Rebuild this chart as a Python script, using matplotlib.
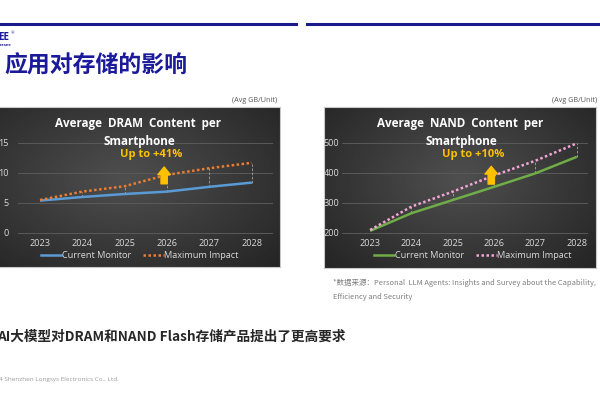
import numpy as np
import matplotlib.pyplot as plt
from matplotlib.patches import FancyArrowPatch
from matplotlib.lines import Line2D

# data
years = [2023, 2024, 2025, 2026, 2027, 2028]
dram_current = [5.4, 6.0, 6.5, 6.9, 7.7, 8.4]
dram_max = [5.5, 6.9, 7.8, 9.7, 10.8, 11.7]
nand_current = [207, 266, 310, 354, 399, 454]
nand_max = [210, 288, 338, 392, 441, 499]
dram_ticks = [0, 5, 10, 15]
nand_ticks = [200, 300, 400, 500]
series_names = ['Current Monitor', 'Maximum Impact']

CJK = ['Noto Sans CJK SC', 'DejaVu Sans']
plt.rcParams['font.family'] = ['Open Sans', 'DejaVu Sans', 'Noto Sans CJK SC']

fig = plt.figure(figsize=(6, 4), dpi=100)
fig.patch.set_facecolor('white')


def px_axes(l, t, r, b, **kw):
    return fig.add_axes([l / 600, 1 - b / 400, (r - l) / 600, (b - t) / 400], **kw)


def px_text(x, y, s, **kw):
    return fig.text(x / 600, 1 - y / 400, s, **kw)


def panel(l, t, r, b):
    ax = px_axes(l, t, r, b)
    yy, xx = np.mgrid[0:1:200j, 0:1:300j]
    d = np.sqrt(((xx - 0.5) / 0.7) ** 2 + ((yy - 0.45) / 0.8) ** 2)
    ax.imshow(0.31 - 0.17 * d, extent=[0, 1, 0, 1], aspect='auto', cmap='gray',
              vmin=0, vmax=1, transform=ax.transAxes)
    ax.set_xticks([])
    ax.set_yticks([])
    for s in ax.spines.values():
        s.set_color('#c8c8c8')
        s.set_linewidth(0.8)
    return ax


def chart(box, xlim, ylim, ticks, cur, mx, c_cur, c_max, ypad):
    ax = px_axes(*box)
    ax.patch.set_alpha(0)
    ax.set_xlim(*xlim)
    ax.set_ylim(*ylim)
    for v in ticks:
        ax.axhline(v, color='#5a5a5a', lw=0.7, zorder=1)
    ax.vlines(years[1:], cur[1:], mx[1:], colors='#a6a6a6',
              linestyles=(0, (3, 2)), lw=0.6, zorder=2)
    ax.plot(years, cur, color=c_cur, lw=1.8, zorder=3, solid_capstyle='butt')
    ax.plot(years, mx, color=c_max, lw=1.8, ls=(0, (1, 1)), zorder=3)
    ax.set_xticks(years)
    ax.set_yticks(ticks)
    ax.tick_params(colors='#d9d9d9', labelsize=6.6, length=0)
    ax.tick_params(axis='y', pad=ypad)
    ax.tick_params(axis='x', pad=2.5)
    for s in ax.spines.values():
        s.set_visible(False)
    return ax


# left: DRAM
panel(-30, 107, 280, 267)
axl = chart((18, 140, 273, 236), (2022.48, 2028.5), (-0.5, 15.5), dram_ticks,
            dram_current, dram_max, '#5b9bd5', '#ed7d31', 7)
# right: NAND
panel(324, 107, 596, 268)
axr = chart((342, 140, 588, 236), (2022.32, 2028.27), (190, 510), nand_ticks,
            nand_current, nand_max, '#70ad47', '#f4a6d7', 2)

for ax, y0, y1 in [(axl, 8.2, 11.0), (axr, 363, 422)]:
    x = years[3] - 0.07
    ax.add_patch(FancyArrowPatch((x, y0), (x, y1), mutation_scale=1,
                                 arrowstyle='simple,head_length=5.5,head_width=9,tail_width=4.5',
                                 color='#ffc000', shrinkA=0, shrinkB=0, zorder=4))

# chart titles
for cx, name in [(138, 'DRAM'), (460, 'NAND')]:
    px_text(cx, 123, 'Average  %s  Content  per' % name, color='white', fontsize=8.4,
            fontweight='bold', ha='center', va='center')
    px_text(cx + 1, 141, 'Smartphone', color='white', fontsize=8.4,
            fontweight='bold', ha='center', va='center')

px_text(151, 155, 'Up to +41%', color='#ffc000', fontsize=8, fontweight='bold',
        ha='center', va='center')
px_text(473, 155, 'Up to +10%', color='#ffc000', fontsize=8, fontweight='bold',
        ha='center', va='center')

# legends
for cx, c_cur, c_max in [(140, '#5b9bd5', '#ed7d31'), (473, '#70ad47', '#f4a6d7')]:
    handles = [Line2D([], [], color=c_cur, lw=1.8),
               Line2D([], [], color=c_max, lw=1.8, ls=(0, (1, 1)))]
    fig.legend(handles, series_names, loc='center', bbox_to_anchor=(cx / 600, 1 - 256 / 400),
               ncol=2, frameon=False, fontsize=6.6, labelcolor='#d9d9d9',
               handlelength=2.2, handletextpad=0.1, columnspacing=1.3,
               borderpad=0, borderaxespad=0)

px_text(277, 101, '(Avg GB/Unit)', color='#595959', fontsize=5.2, ha='right', va='center')
px_text(597, 101, '(Avg GB/Unit)', color='#595959', fontsize=5.2, ha='right', va='center')

# slide decoration
fig.add_artist(Line2D([0, 296 / 600], [1 - 24 / 400] * 2, color='#1a1a8c', lw=2.2))
fig.add_artist(Line2D([307 / 600, 1], [1 - 24 / 400] * 2, color='#1a1a8c', lw=2.2))
px_text(-2, 38, 'EE', color='#1a1a9a', fontsize=7, fontweight='bold', va='center')
px_text(11, 33, '®', color='#1a1a9a', fontsize=3, va='center')
px_text(-2, 45, 'oresee', color='#1a1a9a', fontsize=3, fontweight='bold', va='center')
px_text(4, 66, '应用对存储的影响', color='#1a1a9a', fontsize=16.5, fontweight='bold',
        va='center', family=CJK)

px_text(333, 283, '*数据来源：Personal  LLM Agents: Insights and Survey about the Capability,',
        color='#7f7f7f', fontsize=5.4, style='italic', va='center', family=CJK)
px_text(333, 297, 'Efficiency and Security', color='#7f7f7f', fontsize=5.4, style='italic',
        va='center', family=CJK)

px_text(-3, 337, 'AI大模型对DRAM和NAND Flash存储产品提出了更高要求', color='#262626',
        fontsize=9.8, fontweight='bold', va='center', family=CJK)
px_text(-1, 380, '4 Shenzhen Longsys Electronics Co., Ltd.', color='#9a9a9a', fontsize=4.6,
        va='center')

fig.savefig('out.png', dpi=100, facecolor='white')
